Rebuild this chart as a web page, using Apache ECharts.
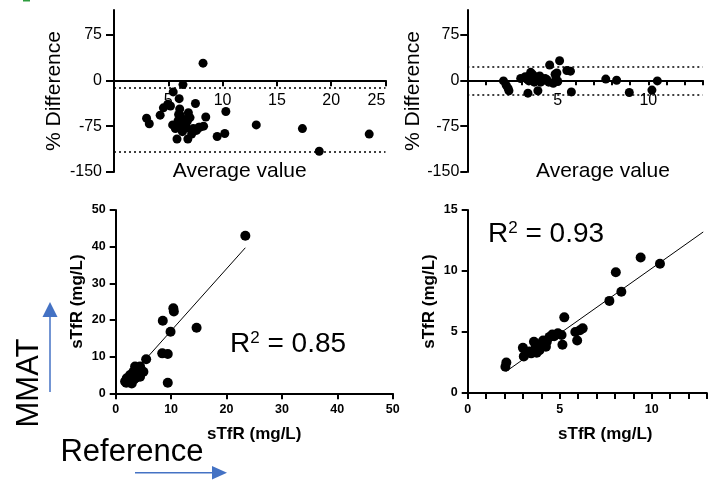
<!DOCTYPE html>
<html><head><meta charset="utf-8">
<script src="https://cdn.jsdelivr.net/npm/echarts@6/dist/echarts.min.js"></script>
<style>html,body{margin:0;padding:0;background:#fff}#c{width:711px;height:481px}</style>
</head><body><div id="c"></div>
<script>
// ---- Top-left Bland-Altman (average value vs % difference)
const baLeftAvg  = [8.2, 6.35, 5.45, 6.0, 7.5, 4.95, 5.2, 4.55, 6.05, 10.3, 6.85, 4.25, 6.1, 7.0, 8.45, 3.0, 3.25, 6.4, 6.55, 5.4, 5.65, 6.2, 6.7, 7.3, 7.8, 8.25, 13.1, 17.35, 18.9, 9.5, 10.2, 5.8, 6.8, 7.15, 6.3, 6.75, 5.9, 5.95, 6.5, 7.6, 7.9, 6.15, 23.5];
const baLeftDiff = [28, -7, -19, -30, -38, -39, -42, -45, -47, -51, -53, -57, -57, -61, -60, -62, -71, -64, -71, -73, -79, -80, -78, -79, -77, -75, -73, -79, -116, -92, -87, -96, -96, -88, -84, -67, -66, -56, -74, -82, -77, -70, -88];
const baLeftLimits = [-13, -117];
// ---- Top-right Bland-Altman
const baRightAvg  = [2.0, 2.15, 2.25, 2.3, 2.95, 3.2, 3.3, 3.5, 3.4, 3.35, 3.7, 3.75, 3.9, 4.0, 4.05, 4.2, 4.3, 4.5, 4.55, 4.75, 4.85, 4.9, 5.1, 5.0, 5.5, 5.7, 5.75, 7.65, 8.25, 8.95, 10.2, 10.5, 3.6, 4.4, 4.95];
const baRightDiff = [-1, -8, -13, -17, 3, 6, 2, 13, -1, -21, -3, 6, -17, 7, -3, 0, 3, -3, 25, -5, 10, 4, 32, -2, 16, 15, -19, 2, 0, -20, -16, -1, 10, 1, 12];
const baRightLimits = [22, -23];
// ---- Bottom-left correlation (Reference sTfR vs MMAT sTfR)
const corrLeftRef  = [23.4, 10.4, 10.5, 8.5, 14.6, 9.9, 8.4, 9.4, 5.5, 9.4, 4.1, 3.5, 4.4, 4.7, 5.0, 3.2, 2.6, 2.0, 1.7, 2.3, 2.6, 2.9, 3.3, 4.4, 3.8, 4.0, 2.2, 3.0, 3.6, 1.9];
const corrLeftMmat = [43, 23.2, 22.3, 19.8, 17.9, 16.8, 10.9, 10.7, 9.3, 2.9, 6.8, 7.3, 7.3, 5.9, 5.9, 5.9, 5.0, 4.1, 3.2, 3.0, 3.2, 2.7, 3.8, 4.5, 5.2, 6.0, 3.6, 4.4, 4.2, 2.9];
const fitLeftX = [1.8, 23.4];
const fitLeftY = [3.2, 39.7];
const r2Left = '0.85';
// ---- Bottom-right correlation
const corrRightRef  = [2.05, 2.1, 3.0, 3.05, 3.6, 3.7, 3.45, 3.75, 3.9, 4.25, 4.3, 4.45, 4.7, 4.9, 5.1, 5.15, 5.25, 5.85, 5.95, 6.1, 6.25, 7.7, 8.35, 8.05, 9.4, 10.45, 3.35, 3.8, 4.0, 3.2, 4.6, 4.1];
const corrRightMmat = [2.15, 2.5, 3.7, 3.0, 4.2, 3.8, 3.25, 3.3, 3.5, 3.8, 4.2, 4.6, 4.65, 4.9, 4.75, 3.95, 6.2, 5.0, 4.3, 5.15, 5.3, 7.55, 8.3, 9.9, 11.1, 10.6, 3.4, 4.0, 3.9, 3.3, 4.8, 4.3];
const fitRightX = [2.1, 12.8];
const fitRightY = [1.78, 13.2];
const r2Right = '0.93';
// ---- Tick values
const topYTicks = [-150, -75, 0, 75];
const topLeftXTicks = [5, 10, 15, 20, 25];
const topRightXTicks = [1,2,3,4,5,6,7,8,9,10,11,12,13];
const topRightXLabels = [5, 10];
const botRightXTicks = [0,1,2,3,4,5,6,7,8,9,10,11,12,13];
const botRightXLabels = [0, 5, 10];

const zip = (a, b) => a.map((v, i) => [v, b[i]]);
const F = '"Liberation Sans", Arial, sans-serif';
const lineS = {lineStyle: {color: '#000', width: 2}};
const tickS = (len) => ({lineStyle: {color: '#000', width: 2}, length: len});

const TOP_H = 162, TOP_MIN = -150, TOP_MAX = 115;
const zeroOffset = -TOP_H * (0 - TOP_MIN) / (TOP_MAX - TOP_MIN);

const chart = echarts.init(document.getElementById('c'), null, {renderer: 'canvas'});
const limitLine = (vals) => ({
  silent: true, symbol: 'none', label: {show: false},
  lineStyle: {color: '#000', type: [2, 3], width: 1.5},
  data: vals.map(v => ({yAxis: v}))
});
const topNameStyle = {fontFamily: F, fontSize: 21, color: '#000'};
const botNameStyle = {fontFamily: F, fontSize: 17, fontWeight: 'bold', color: '#000'};
const botLabel = {fontFamily: F, fontSize: 12.5, fontWeight: 'bold', color: '#000', margin: 10};
const topTickLabel = {fontFamily: F, fontSize: 16, color: '#000'};

chart.setOption({
  animation: false,
  backgroundColor: '#fff',
  grid: [
    {left: 114, top: 10, width: 271.5, height: TOP_H},
    {left: 467.3, top: 10, width: 235.3, height: TOP_H},
    {left: 115.7, top: 210, width: 277, height: 183.3},
    {left: 467.7, top: 210, width: 239.2, height: 183}
  ],
  xAxis: [
    {gridIndex: 0, type: 'value', min: 0, max: 25, interval: 5, position: 'bottom', offset: zeroOffset,
     axisLine: {onZero: false, ...lineS}, axisTick: {...tickS(6), customValues: topLeftXTicks},
     axisLabel: {customValues: topLeftXTicks, ...topTickLabel, margin: 12,
       formatter: v => v === 25 ? '{e|25}' : String(v),
       rich: {e: {...topTickLabel, padding: [0, 18, 0, 0]}}},
     splitLine: {show: false},
     name: 'Average value', nameLocation: 'middle', nameGap: 80,
     nameTextStyle: {...topNameStyle, padding: [0, 20, 0, 0]}},
    {gridIndex: 1, type: 'value', min: 0, max: 13, interval: 1, position: 'bottom', offset: zeroOffset,
     axisLine: {onZero: false, ...lineS}, axisTick: {...tickS(5), customValues: topRightXTicks},
     axisLabel: {customValues: topRightXLabels, ...topTickLabel, margin: 12},
     splitLine: {show: false},
     name: 'Average value', nameLocation: 'middle', nameGap: 80,
     nameTextStyle: {...topNameStyle, padding: [0, 0, 0, 36]}},
    {gridIndex: 2, type: 'value', min: 0, max: 50, interval: 10,
     axisLine: lineS, axisTick: tickS(6), axisLabel: botLabel, splitLine: {show: false},
     name: 'sTfR (mg/L)', nameLocation: 'middle', nameGap: 33, nameTextStyle: botNameStyle},
    {gridIndex: 3, type: 'value', min: 0, max: 13, interval: 1,
     axisLine: lineS, axisTick: {...tickS(6), customValues: botRightXTicks},
     axisLabel: {...botLabel, customValues: botRightXLabels}, splitLine: {show: false},
     name: 'sTfR (mg/L)', nameLocation: 'middle', nameGap: 33,
     nameTextStyle: {...botNameStyle, padding: [0, 0, 0, 36]}}
  ],
  yAxis: [
    {gridIndex: 0, type: 'value', min: TOP_MIN, max: TOP_MAX,
     axisLine: {onZero: false, ...lineS}, axisTick: {...tickS(8), customValues: topYTicks},
     axisLabel: {customValues: topYTicks, ...topTickLabel, margin: 12},
     splitLine: {show: false},
     name: '% Difference', nameLocation: 'middle', nameGap: 49, nameTextStyle: topNameStyle},
    {gridIndex: 1, type: 'value', min: TOP_MIN, max: TOP_MAX,
     axisLine: {onZero: false, ...lineS}, axisTick: {...tickS(7), customValues: topYTicks},
     axisLabel: {customValues: topYTicks, ...topTickLabel, margin: 8},
     splitLine: {show: false},
     name: '% Difference', nameLocation: 'middle', nameGap: 43, nameTextStyle: topNameStyle},
    {gridIndex: 2, type: 'value', min: 0, max: 50, interval: 10,
     axisLine: lineS, axisTick: tickS(6), axisLabel: botLabel, splitLine: {show: false},
     name: 'sTfR (mg/L)', nameLocation: 'middle', nameGap: 30, nameTextStyle: botNameStyle},
    {gridIndex: 3, type: 'value', min: 0, max: 15, interval: 5,
     axisLine: lineS, axisTick: tickS(6), axisLabel: botLabel, splitLine: {show: false},
     name: 'sTfR (mg/L)', nameLocation: 'middle', nameGap: 30, nameTextStyle: botNameStyle}
  ],
  series: [
    {type: 'scatter', xAxisIndex: 0, yAxisIndex: 0, symbolSize: 9, itemStyle: {color: '#000', opacity: 1},
     data: zip(baLeftAvg, baLeftDiff), markLine: limitLine(baLeftLimits)},
    {type: 'scatter', xAxisIndex: 1, yAxisIndex: 1, symbolSize: 9, itemStyle: {color: '#000', opacity: 1},
     data: zip(baRightAvg, baRightDiff), markLine: limitLine(baRightLimits)},
    {type: 'scatter', xAxisIndex: 2, yAxisIndex: 2, symbolSize: 10, itemStyle: {color: '#000', opacity: 1},
     data: zip(corrLeftRef, corrLeftMmat)},
    {type: 'line', xAxisIndex: 2, yAxisIndex: 2, symbol: 'none', lineStyle: {color: '#000', width: 1},
     data: zip(fitLeftX, fitLeftY)},
    {type: 'scatter', xAxisIndex: 3, yAxisIndex: 3, symbolSize: 10, itemStyle: {color: '#000', opacity: 1},
     data: zip(corrRightRef, corrRightMmat)},
    {type: 'line', xAxisIndex: 3, yAxisIndex: 3, symbol: 'none', lineStyle: {color: '#000', width: 1},
     data: zip(fitRightX, fitRightY)}
  ],
  graphic: [
    {type: 'rect', shape: {x: 23, y: 0, width: 7, height: 1.5}, style: {fill: '#2e9c3f'}},
    {type: 'text', x: 230, y: 330, style: {
      text: '{r|R}{s|2}{r| = ' + r2Left + '}',
      rich: {r: {fontFamily: F, fontSize: 28, color: '#000'}, s: {fontFamily: F, fontSize: 17, color: '#000', verticalAlign: 'top'}}}},
    {type: 'text', x: 488, y: 220, style: {
      text: '{r|R}{s|2}{r| = ' + r2Right + '}',
      rich: {r: {fontFamily: F, fontSize: 28, color: '#000'}, s: {fontFamily: F, fontSize: 17, color: '#000', verticalAlign: 'top'}}}},
    {type: 'text', x: 29, y: 383, rotation: Math.PI / 2, style: {
      text: 'MMAT', fontFamily: F, fontSize: 31, fill: '#000', align: 'center', verticalAlign: 'middle'}},
    {type: 'text', x: 132, y: 452, style: {
      text: 'Reference', fontFamily: F, fontSize: 31, fill: '#000', align: 'center', verticalAlign: 'middle'}},
    {type: 'line', shape: {x1: 50, y1: 392, x2: 50, y2: 316}, style: {stroke: '#4472C4', lineWidth: 1.5}},
    {type: 'polygon', shape: {points: [[50, 302], [42.5, 317], [57.5, 317]]}, style: {fill: '#4472C4'}},
    {type: 'line', shape: {x1: 135, y1: 472.7, x2: 213, y2: 472.7}, style: {stroke: '#4472C4', lineWidth: 1.5}},
    {type: 'polygon', shape: {points: [[227, 472.7], [212, 466], [212, 479.5]]}, style: {fill: '#4472C4'}}
  ]
});
</script>
</body></html>
